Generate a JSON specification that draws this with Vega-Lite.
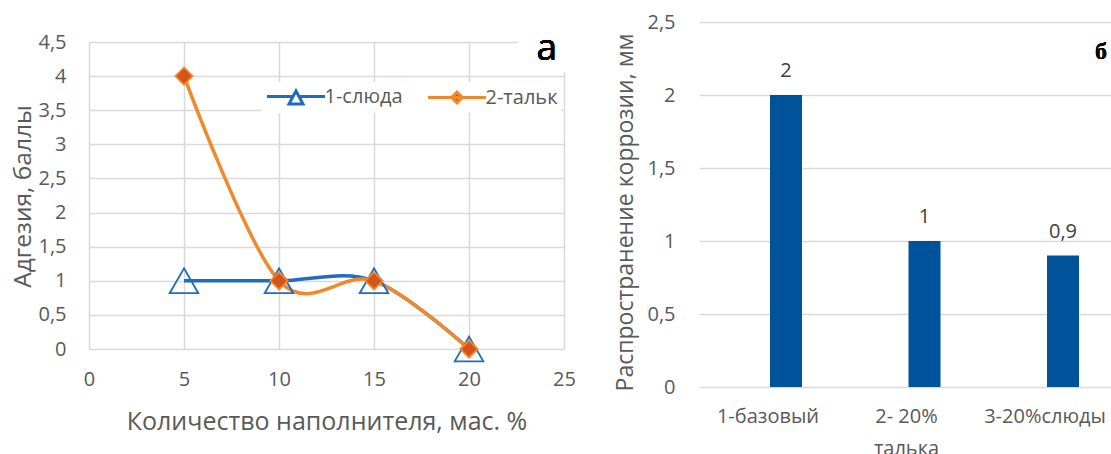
{
  "$schema": "https://vega.github.io/schema/vega-lite/v6.json",
  "padding": {"left": 10, "top": 12, "right": 0, "bottom": 0},
  "background": "white",
  "config": {
    "locale": {"number": {"decimal": ",", "thousands": " ", "grouping": [3], "currency": ["", ""]}},
    "font": "Open Sans",
    "view": {"stroke": null},
    "axis": {
      "labelFont": "Open Sans", "labelFontSize": 20, "labelColor": "#595959", "labelFlush": false,
      "titleFont": "Open Sans", "titleColor": "#595959", "titleFontWeight": "normal",
      "gridColor": "#d9d9d9", "gridWidth": 1.5, "domain": false, "ticks": false
    }
  },
  "resolve": {"scale": {"color": "independent"}, "legend": {"color": "independent"}},
  "hconcat": [
    {
      "width": 475,
      "height": 307,
      "data": {"values": [
        {"x": 5, "y": 1, "series": "1-слюда"},
        {"x": 10, "y": 1, "series": "1-слюда"},
        {"x": 15, "y": 1, "series": "1-слюда"},
        {"x": 20, "y": 0, "series": "1-слюда"},
        {"x": 5, "y": 4, "series": "2-тальк"},
        {"x": 10, "y": 1, "series": "2-тальк"},
        {"x": 15, "y": 1, "series": "2-тальк"},
        {"x": 20, "y": 0, "series": "2-тальк"}
      ]},
      "encoding": {
        "x": {"field": "x", "type": "quantitative", "scale": {"domain": [0, 25], "nice": false},
          "axis": {"values": [0, 5, 10, 15, 20, 25], "format": "~g", "labelPadding": 20, "title": "Количество наполнителя, мас. %", "titleFontSize": 25, "titleBaseline": "alphabetic", "titleY": 80}},
        "y": {"field": "y", "type": "quantitative", "scale": {"domain": [0, 4.5], "nice": false},
          "axis": {"values": [0, 0.5, 1, 1.5, 2, 2.5, 3, 3.5, 4, 4.5], "format": "~g", "labelPadding": 23, "title": "Адгезия, баллы", "titleFontSize": 24.5, "titleBaseline": "alphabetic", "titleX": -59, "titleY": 154}}
      },
      "layer": [
        {
          "mark": {"type": "line", "interpolate": "cardinal", "tension": 0, "strokeWidth": 3.5},
          "encoding": {
            "color": {"field": "series", "type": "nominal",
              "scale": {"domain": ["1-слюда", "2-тальк"], "range": ["#1f6dbd", "#f0882c"]},
              "legend": {
                "orient": "none", "legendX": 173, "legendY": 40, "direction": "horizontal",
                "title": null, "fillColor": "white", "padding": 3,
                "labelFont": "Open Sans", "labelFontSize": 20, "labelColor": "#595959",
                "symbolSize": 400, "symbolStrokeWidth": 3, "symbolOffset": 19.5, "labelOffset": 17, "columnPadding": 19,
                "symbolType": "M-2.9,0H2.9",
                "encode": {"symbols": {"update": {
                  "shape": {"signal": "datum.value == '1-слюда' ? 'M-2.9,0H-0.3M0.3,0H2.9M0,-0.55L0.7,0.75L-0.7,0.75Z' : 'M-2.9,0H2.9M0,-0.55L0.55,0L0,0.55L-0.55,0Z'"},
                  "fill": {"signal": "datum.value == '1-слюда' ? 'white' : '#d4541c'"}
                }}}
              }
            }
          }
        },
        {
          "mark": {"type": "point", "filled": true, "strokeWidth": 1.8, "opacity": 1},
          "encoding": {
            "shape": {"field": "series", "type": "nominal", "scale": {"domain": ["1-слюда", "2-тальк"], "range": ["triangle-up", "diamond"]}, "legend": null},
            "size": {"field": "series", "type": "nominal", "scale": {"domain": ["1-слюда", "2-тальк"], "range": [820, 300]}, "legend": null},
            "stroke": {"field": "series", "type": "nominal", "scale": {"domain": ["1-слюда", "2-тальк"], "range": ["#1f6dbd", "#f0882c"]}, "legend": null},
            "fill": {"field": "series", "type": "nominal", "scale": {"domain": ["1-слюда", "2-тальк"], "range": ["transparent", "#d4541c"]}, "legend": null}
          }
        },
        {
          "mark": {"type": "rect", "color": "white", "opacity": 1},
          "encoding": {"x": {"datum": 22.6}, "x2": {"datum": 25.3}, "y": {"datum": 4.06}, "y2": {"datum": 4.8}}
        },
        {
          "mark": {"type": "text", "text": "а", "font": "Open Sans", "fontSize": 37, "color": "#000000", "baseline": "alphabetic", "align": "center"},
          "encoding": {"x": {"datum": 24.1}, "y": {"datum": 4.24}}
        }
      ],
      "resolve": {"scale": {"color": "independent", "shape": "independent", "size": "independent", "stroke": "independent", "fill": "independent"}}
    },
    {
      "width": 413,
      "height": 345,
      "data": {"values": [
        {"group": "1-базовый", "value": 2},
        {"group": "2- 20% талька", "value": 1},
        {"group": "3-20%слюды", "value": 0.9}
      ]},
      "encoding": {
        "x": {"field": "group", "type": "nominal", "sort": null,
          "scale": {"range": [0, 451], "paddingInner": 0, "paddingOuter": 0.128},
          "axis": {"labelAngle": 0, "labelPadding": 19, "labelLineHeight": 32, "labelBaseline": "top", "labelOffset": -18,
            "labelExpr": "datum.label == '2- 20% талька' ? ['2- 20%', 'талька'] : datum.label", "title": null}},
        "y": {"field": "value", "type": "quantitative", "scale": {"domain": [0, 2.5], "nice": false, "range": [345, -20]},
          "axis": {"values": [0, 0.5, 1, 1.5, 2, 2.5], "format": "~g", "labelPadding": 24, "title": "Распространение коррозии, мм", "titleFontSize": 23, "titleBaseline": "alphabetic", "titleX": -67, "titleY": 170}}
      },
      "layer": [
        {"mark": {"type": "bar", "width": 32, "color": "#00529b"}},
        {"mark": {"type": "text", "baseline": "alphabetic", "dy": -18, "font": "Open Sans", "fontSize": 20, "color": "#404040"},
          "encoding": {"text": {"field": "value", "type": "quantitative"}}},
        {"mark": {"type": "text", "text": "б", "font": "Liberation Serif", "fontWeight": "bold", "fontSize": 24, "color": "#000000", "baseline": "alphabetic", "align": "center", "dx": 38},
          "encoding": {"x": {"datum": "3-20%слюды"}, "y": {"datum": 2.25}}}
      ]
    }
  ],
  "spacing": 37
}
